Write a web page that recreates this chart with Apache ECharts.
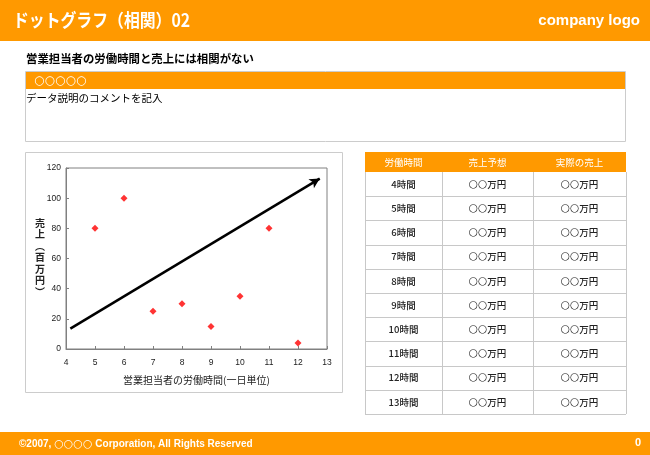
<!DOCTYPE html>
<html><head><meta charset="utf-8">
<script src="https://cdn.jsdelivr.net/npm/echarts@6/dist/echarts.min.js"></script>
<style>html,body{margin:0;padding:0;background:#fff}#c{width:650px;height:455px}</style>
</head><body><div id="c"></div>
<script>
// ---- data ----
var hours = [5, 6, 7, 8, 9, 10, 11, 12];
var sales = [80, 100, 25, 30, 15, 35, 80, 4];
var arrowX = [4.15, 12.75];
var arrowY = [13.5, 113];
var xTicks = [4, 5, 6, 7, 8, 9, 10, 11, 12, 13];
var yTicks = [0, 20, 40, 60, 80, 100, 120];
var tableHeader = ['労働時間', '売上予想', '実際の売上'];
var rowLabels = ['4時間', '5時間', '6時間', '7時間', '8時間', '9時間', '10時間', '11時間', '12時間', '13時間'];
var forecastCol = ['○○万円','○○万円','○○万円','○○万円','○○万円','○○万円','○○万円','○○万円','○○万円','○○万円'];
var actualCol = ['○○万円','○○万円','○○万円','○○万円','○○万円','○○万円','○○万円','○○万円','○○万円','○○万円'];
var titleText = 'ドットグラフ（相関）02';
var logoText = 'company logo';
var subtitleText = '営業担当者の労働時間と売上には相関がない';
var boxHeader = '○○○○○';
var boxComment = 'データ説明のコメントを記入';
var footerPre = '©2007, ';
var footerCircles = '○○○○';
var footerPost = ' Corporation, All Rights Reserved';
var pageNo = '0';
var xName = '営業担当者の労働時間(一日単位)';
var yNameChars = ['売', '上', '︵', '百', '万', '円', '︶'];

// ---- layout ----
var ORANGE = '#FF9900';
var JP = '"Noto Sans CJK JP", sans-serif';
var LAT = '"Liberation Sans", Arial, sans-serif';
var DV = '"DejaVu Sans", sans-serif';
// split text into rich segments so that ○ uses a lighter geometric glyph
function richCircles(s, key, circ) {
  return s.replace(/(○+)|([^○]+)/g, function(m, c, o) { return c ? '{' + circ + '|' + c + '}' : '{' + key + '|' + o + '}'; });
}
var g = [];
g.push({type:'rect', shape:{x:0,y:0,width:650,height:41}, style:{fill:ORANGE}, z:1});
g.push({type:'text', x:13, y:20, scaleX:0.88, style:{text:titleText, fill:'#fff', font:'bold 18px '+JP, textVerticalAlign:'middle'}, z:2});
g.push({type:'text', x:640, y:21, style:{text:logoText, fill:'#fff', font:'bold 15px '+LAT, textAlign:'right', textVerticalAlign:'middle'}, z:2});
g.push({type:'text', x:26, y:59, style:{text:subtitleText, fill:'#000', font:'bold 11.4px '+JP, textVerticalAlign:'middle'}, z:2});
// comment box
g.push({type:'rect', shape:{x:25.5,y:71.5,width:600,height:70}, style:{fill:'#fff', stroke:'#cccccc', lineWidth:1}, z:1});
g.push({type:'rect', shape:{x:26,y:72,width:599,height:17}, style:{fill:ORANGE}, z:2});
g.push({type:'text', x:34, y:81, style:{text:boxHeader, fill:'#fff', font:'12px '+DV, textVerticalAlign:'middle'}, z:3});
g.push({type:'text', x:26, y:98, style:{text:boxComment, fill:'#000', font:'10.5px '+JP, textVerticalAlign:'middle'}, z:3});
// chart box
g.push({type:'rect', shape:{x:25.5,y:152.5,width:317,height:240}, style:{fill:'none', stroke:'#cccccc', lineWidth:1}, z:0});
// y axis name, stacked vertically
for (var q = 0; q < yNameChars.length; q++) {
  g.push({type:'text', x:40, y:223 + q * 11.5, style:{text:yNameChars[q], fill:'#222', font:'bold 10px '+JP, textAlign:'center', textVerticalAlign:'middle'}, z:3});
}
// table
var tx = [365, 442, 533, 626];
var ty0 = 152, hh = 20, rh = 24.2;
g.push({type:'rect', shape:{x:tx[0],y:ty0,width:tx[3]-tx[0],height:hh}, style:{fill:ORANGE}, z:1});
for (var c = 0; c < 3; c++) {
  g.push({type:'text', x:(tx[c]+tx[c+1])/2, y:ty0+hh/2, style:{text:tableHeader[c], fill:'#fff', font:'9.5px '+JP, textAlign:'center', textVerticalAlign:'middle'}, z:3});
}
var cellRich = {t:{fill:'#222', font:'500 9.5px '+JP}, o:{fill:'#222', font:'10.5px '+DV}};
var tBottom = ty0 + hh + rh * rowLabels.length;
for (var r = 0; r < rowLabels.length; r++) {
  var yc = ty0 + hh + rh * r + rh / 2;
  var cols = [rowLabels[r], forecastCol[r], actualCol[r]];
  for (var c2 = 0; c2 < 3; c2++) {
    g.push({type:'text', x:(tx[c2]+tx[c2+1])/2, y:yc, style:{text:richCircles(cols[c2], 't', 'o'), rich:cellRich, textAlign:'center', textVerticalAlign:'middle'}, z:3});
  }
  var yl = Math.round(ty0 + hh + rh * (r + 1)) + 0.5;
  g.push({type:'line', shape:{x1:tx[0],y1:yl,x2:tx[3],y2:yl}, style:{stroke:'#c8c8c8', lineWidth:1}, z:2});
}
for (var k = 0; k < 4; k++) {
  var xl = tx[k] + 0.5;
  g.push({type:'line', shape:{x1:xl,y1:ty0+hh,x2:xl,y2:tBottom}, style:{stroke:'#c8c8c8', lineWidth:1}, z:2});
}
// footer
g.push({type:'rect', shape:{x:0,y:432,width:650,height:23}, style:{fill:ORANGE}, z:1});
g.push({type:'text', x:19, y:444, style:{
  text:'{a|'+footerPre+'}{b|'+footerCircles+'}{a|'+footerPost+'}',
  textVerticalAlign:'middle',
  rich:{a:{fill:'#fff', font:'bold 10px '+LAT}, b:{fill:'#fff', font:'11px '+DV}}}, z:2});
g.push({type:'text', x:641, y:443, style:{text:pageNo, fill:'#fff', font:'bold 11px '+LAT, textAlign:'right', textVerticalAlign:'middle'}, z:2});

var chart = echarts.init(document.getElementById('c'), null, {renderer:'canvas'});
chart.setOption({
  backgroundColor:'#fff',
  animation:false,
  graphic: g,
  grid:{left:66, right:323, top:168, bottom:106, show:true, borderColor:'#808080', borderWidth:1, backgroundColor:'#fff'},
  xAxis:{type:'value', min:xTicks[0], max:xTicks[xTicks.length-1], interval:1,
    name:xName, nameLocation:'middle', nameGap:26,
    nameTextStyle:{fontFamily:'"Noto Sans CJK JP"', fontSize:10, color:'#222'},
    axisLine:{show:true, onZero:false, lineStyle:{color:'#808080'}},
    axisTick:{show:true, inside:true, length:3, lineStyle:{color:'#808080'}},
    axisLabel:{fontSize:8.5, color:'#222', margin:9, fontFamily:'"Liberation Sans", Arial'},
    splitLine:{show:false}},
  yAxis:{type:'value', min:yTicks[0], max:yTicks[yTicks.length-1], interval:20,
    axisLine:{show:true, lineStyle:{color:'#808080'}},
    axisTick:{show:true, inside:true, length:3, lineStyle:{color:'#808080'}},
    axisLabel:{fontSize:8.5, color:'#222', margin:5, fontFamily:'"Liberation Sans", Arial'},
    splitLine:{show:false}},
  series:[
    {type:'scatter', symbol:'diamond', symbolSize:7, itemStyle:{color:'#ff0000'},
     data: hours.map(function(h,i){return [h, sales[i]];}), z:3,
     markLine:{silent:true, animation:false, symbol:['none','arrow'], symbolSize:[8,10],
       label:{show:false}, lineStyle:{color:'#000', width:2.5, type:'solid'},
       data:[[{coord:[arrowX[0], arrowY[0]]}, {coord:[arrowX[1], arrowY[1]]}]]}}
  ]
});
</script></body></html>
